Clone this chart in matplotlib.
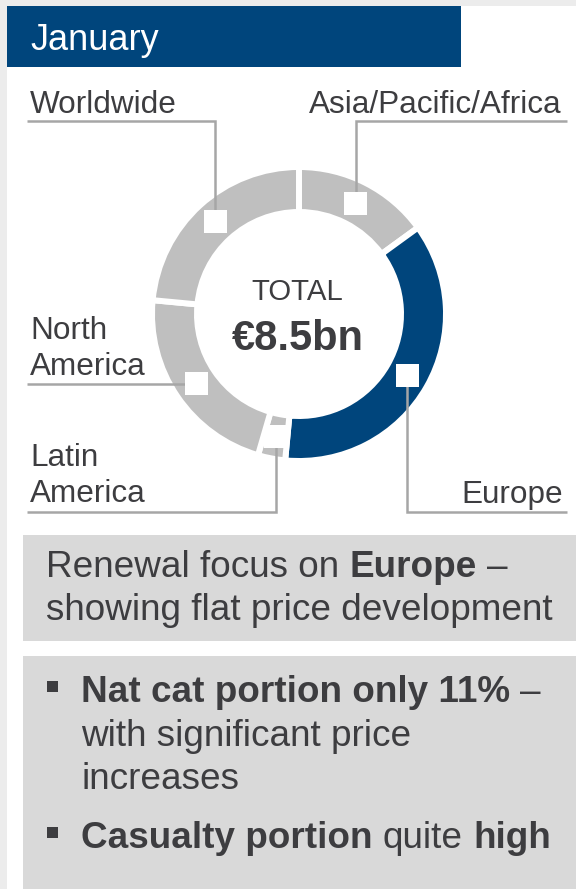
import matplotlib
matplotlib.use("Agg")
import matplotlib.pyplot as plt
from matplotlib.patches import Rectangle
import numpy as np

# ---- data -------------------------------------------------------------
month = "January"
regions = ["Asia/Pacific/Africa", "Europe", "Latin America", "North America", "Worldwide"]
shares = [15.0, 36.5, 3.0, 22.0, 23.5]          # % of renewed premium
total_bn = 8.5
highlight = "Europe"

focus_lines = [
    [("Renewal focus on", False), (" Europe", True), (" –", False)],
    [("showing flat price development", False)],
]
bullets = [
    [
        [("Nat cat portion only 11%", True), (" –", False)],
        [("with significant price", False)],
        [("increases", False)],
    ],
    [
        [("Casualty portion", True), (" quite ", False), ("high", True)],
    ],
]

# ---- styling ----------------------------------------------------------
W, H = 576, 889
FONT = ["Liberation Sans", "DejaVu Sans"]
BLUE = "#00457c"
SEG_GREY = "#bfbfbf"
BOX_GREY = "#d9d9d9"
FRAME_GREY = "#ececec"
LINE_GREY = "#a6a6a6"
TXT = "#3d3d40"

fig = plt.figure(figsize=(W / 100, H / 100), dpi=100)
fig.patch.set_facecolor(FRAME_GREY)
ax = fig.add_axes([0, 0, 1, 1])

# ---- donut ------------------------------------------------------------
cx, cy = 299, 314
r_out, r_in = 144, 105
gap_lw = 4.3
colors = [BLUE if r == highlight else SEG_GREY for r in regions]
ax.pie(shares, colors=colors, startangle=-90, counterclock=True,
       center=(cx, cy), radius=r_out + 3,
       wedgeprops=dict(width=r_out - r_in + 6, edgecolor="white", linewidth=gap_lw),
       frame=True)

ax.set_xlim(0, W)
ax.set_ylim(H, 0)
ax.set_aspect("auto")
ax.axis("off")
ax.set_facecolor("none")

# white panel and header
ax.add_patch(Rectangle((7, 6), W - 7, H - 6, facecolor="white", edgecolor="none", zorder=-5))
ax.add_patch(Rectangle((7, 6), 454, 61, facecolor=BLUE, edgecolor="none", zorder=1))
ax.text(30, 50, month, color="white", fontsize=26, family=FONT, va="baseline", ha="left", zorder=2)

# centre text
ax.text(cx - 2, 300, "TOTAL", color=TXT, fontsize=21.2, family=FONT, ha="center", va="baseline")
ax.text(cx - 1, 350, f"€{total_bn:g}bn", color=TXT, fontsize=30, fontweight="bold",
        family=FONT, ha="center", va="baseline")

# marker positions at the middle of each segment
frac = np.array(shares) / np.sum(shares) * 360.0
mid = np.radians(np.cumsum(frac) - frac / 2)
r_mid = (r_out + r_in) / 2
mx = cx + r_mid * np.sin(mid)
my = cy - r_mid * np.cos(mid)

LABEL_FS = 22.7
line_kw = dict(color=LINE_GREY, lw=1.8, solid_capstyle="butt", solid_joinstyle="miter", zorder=3)
top_y, bot_y = 120.5, 511.5
left_x, right_x = 27, 567

for name, x0, y0 in zip(regions, mx, my):
    if name == "Worldwide":
        ax.plot([x0, x0, left_x], [y0, top_y, top_y], **line_kw)
        ax.text(30, 113, name, color=TXT, fontsize=LABEL_FS, family=FONT, va="baseline")
    elif name == "Asia/Pacific/Africa":
        ax.plot([x0, x0, right_x], [y0, top_y, top_y], **line_kw)
        ax.text(562, 113, name, color=TXT, fontsize=LABEL_FS, family=FONT, va="baseline", ha="right")
    elif name == "Europe":
        ax.plot([x0, x0, right_x], [y0, bot_y, bot_y], **line_kw)
        ax.text(563, 503, name, color=TXT, fontsize=LABEL_FS, family=FONT, va="baseline", ha="right")
    elif name == "Latin America":
        ax.plot([x0, x0, left_x], [y0, bot_y, bot_y], **line_kw)
        ax.text(30, 466, "Latin", color=TXT, fontsize=LABEL_FS, family=FONT, va="baseline")
        ax.text(30, 502, "America", color=TXT, fontsize=LABEL_FS, family=FONT, va="baseline")
    elif name == "North America":
        ax.plot([x0, left_x], [y0, y0], **line_kw)
        ax.text(30, y0 - 45, "North", color=TXT, fontsize=LABEL_FS, family=FONT, va="baseline")
        ax.text(30, y0 - 9, "America", color=TXT, fontsize=LABEL_FS, family=FONT, va="baseline")
    ax.add_patch(Rectangle((x0 - 11.5, y0 - 11.5), 23, 23, facecolor="white",
                           edgecolor="none", zorder=4))

# ---- comment boxes ----------------------------------------------------
ax.add_patch(Rectangle((23, 535), W - 23, 106, facecolor=BOX_GREY, edgecolor="none", zorder=0))
ax.add_patch(Rectangle((23, 656), W - 23, H - 656, facecolor=BOX_GREY, edgecolor="none", zorder=0))

renderer = fig.canvas.get_renderer()
BODY_FS = 26.6


def text_width(s, weight):
    t = ax.text(0, 0, s, fontsize=BODY_FS, fontweight=weight, family=FONT)
    w = t.get_window_extent(renderer).width
    t.remove()
    return w


def advance(s, weight):
    return text_width("x" + s + "x", weight) - text_width("xx", weight)


def draw_runs(x, y, parts):
    for s, bold in parts:
        weight = "bold" if bold else "normal"
        lead = len(s) - len(s.lstrip(" "))
        if lead:
            x += advance(" " * lead, weight)
        body = s.strip(" ")
        if body:
            ax.text(x, y, body, fontsize=BODY_FS, fontweight=weight, color=TXT,
                    family=FONT, va="baseline", ha="left", zorder=2)
            x += advance(body, weight)
        trail = len(s) - len(s.rstrip(" "))
        if trail and body:
            x += advance(" " * trail, weight)


for i, parts in enumerate(focus_lines):
    draw_runs(46, 577 + 43 * i, parts)

bullet_y0 = [702, 848]
for y0, item in zip(bullet_y0, bullets):
    ax.add_patch(Rectangle((47, y0 - 21), 10.5, 10.5, facecolor=TXT, edgecolor="none", zorder=2))
    for j, parts in enumerate(item):
        draw_runs(81, y0 + 43.5 * j, parts)

fig.savefig("out.png", dpi=100, facecolor=fig.get_facecolor())
